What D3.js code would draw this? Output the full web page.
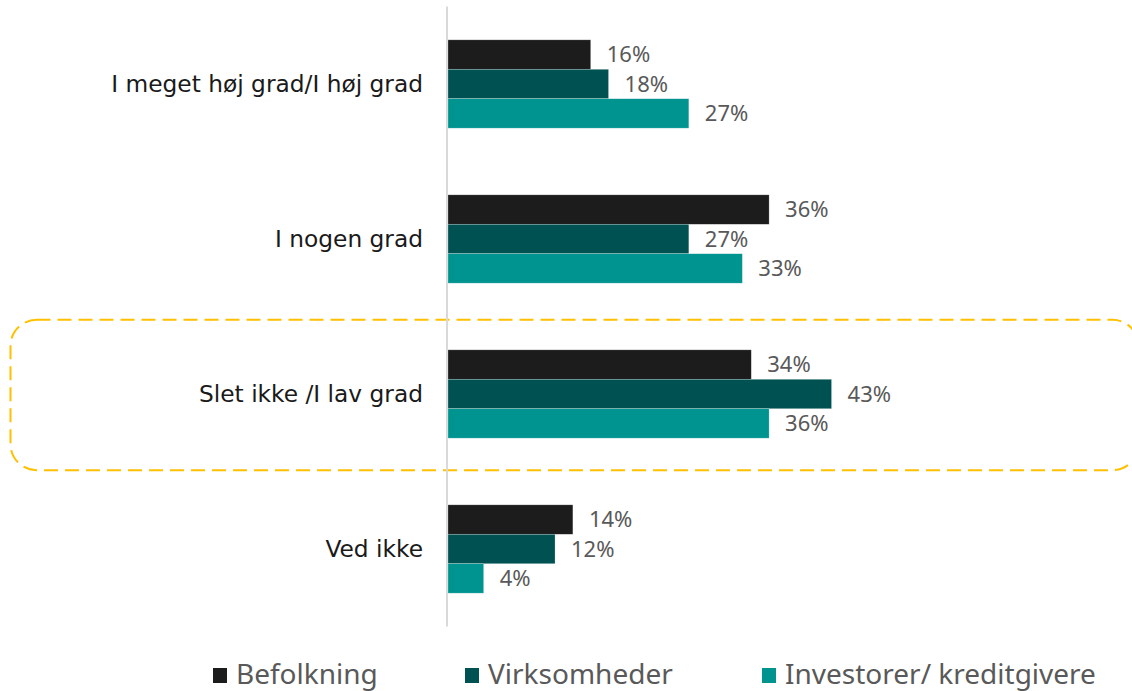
<!DOCTYPE html>
<html>
<head>
<meta charset="utf-8">
<script src="https://cdn.jsdelivr.net/npm/d3@7"></script>
<style>
  html, body { margin: 0; padding: 0; background: #fff; }
  svg { display: block; }
  .cat-label { font-family: "DejaVu Sans", "Noto Sans", sans-serif; font-size: 23.3px; fill: #1a1a1a; }
  .val-label, .legend-label {
    font-family: "Noto Sans", "Liberation Sans Narrow", sans-serif;
    fill: #595959;
  }
  .val-label { font-size: 22px; }
  .legend-label { font-size: 28px; }
</style>
</head>
<body>
<div id="chart"></div>
<script>
const categories = ["I meget høj grad/I høj grad", "I nogen grad", "Slet ikke /I lav grad", "Ved ikke"];
const series = ["Befolkning", "Virksomheder", "Investorer/ kreditgivere"];
const befolkning = [16, 36, 34, 14];
const virksomheder = [18, 27, 43, 12];
const investorer = [27, 33, 36, 4];
const colors = ["#1c1c1c", "#005252", "#009490"];
const highlighted = "Slet ikke /I lav grad";

const values = [befolkning, virksomheder, investorer];

const width = 1132;
const height = 691;

const svg = d3.select("#chart")
  .append("svg")
  .attr("width", width)
  .attr("height", height);

const x = d3.scaleLinear()
  .domain([0, 50])
  .range([448, 448 + 446]);

const y = d3.scaleBand()
  .domain(categories)
  .range([6.5, 626.5])
  .paddingInner(0.43)
  .paddingOuter(0.215);

const ySeries = d3.scaleBand()
  .domain(series)
  .range([0, y.bandwidth()]);

// highlight box around one category
svg.append("rect")
  .attr("x", 10.5)
  .attr("y", y(highlighted) - 30)
  .attr("width", 1128)
  .attr("height", y.bandwidth() + 62)
  .attr("rx", 26)
  .attr("fill", "none")
  .attr("stroke", "#ffc000")
  .attr("stroke-width", 2)
  .attr("stroke-dasharray", "14 7");

// vertical axis line
svg.append("line")
  .attr("x1", x(0) - 1)
  .attr("x2", x(0) - 1)
  .attr("y1", y.range()[0])
  .attr("y2", y.range()[1])
  .attr("stroke", "#d9d9d9")
  .attr("stroke-width", 2);

const rows = [];
categories.forEach((cat, i) => {
  series.forEach((s, j) => {
    rows.push({ cat, s, j, v: values[j][i] });
  });
});

svg.selectAll(".bar")
  .data(rows)
  .enter()
  .append("rect")
  .attr("class", "bar")
  .attr("x", x(0))
  .attr("y", d => y(d.cat) + ySeries(d.s))
  .attr("width", d => x(d.v) - x(0))
  .attr("height", ySeries.bandwidth())
  .attr("fill", d => colors[d.j])
  .attr("stroke", "#ffffff")
  .attr("stroke-opacity", 0.4)
  .attr("stroke-width", 0.6);

svg.selectAll(".val-label")
  .data(rows)
  .enter()
  .append("text")
  .attr("class", "val-label")
  .attr("x", d => x(d.v) + 16)
  .attr("y", d => y(d.cat) + ySeries(d.s) + ySeries.bandwidth() / 2)
  .attr("dy", "0.36em")
  .text(d => d.v + "%");

svg.selectAll(".cat-label")
  .data(categories)
  .enter()
  .append("text")
  .attr("class", "cat-label")
  .attr("x", 423)
  .attr("y", d => y(d) + y.bandwidth() / 2)
  .attr("dy", "0.36em")
  .attr("text-anchor", "end")
  .text(d => d);

// legend
const legendX = [213, 465, 762];
const legend = svg.selectAll(".legend")
  .data(series)
  .enter()
  .append("g")
  .attr("class", "legend")
  .attr("transform", (d, i) => `translate(${legendX[i]}, 668)`);

legend.append("rect")
  .attr("width", 14)
  .attr("height", 15)
  .attr("fill", (d, i) => colors[i]);

legend.append("text")
  .attr("class", "legend-label")
  .attr("x", 23)
  .attr("y", 16)
  .text(d => d);
</script>
</body>
</html>
